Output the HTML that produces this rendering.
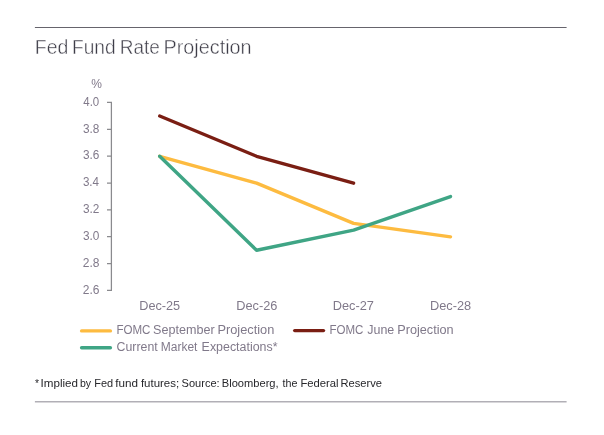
<!DOCTYPE html>
<html><head><meta charset="utf-8"><title>Fed Fund Rate Projection</title>
<style>
html,body{margin:0;padding:0;background:#fff;}
body{width:604px;height:435px;overflow:hidden;position:relative;font-family:"Liberation Sans",sans-serif;}
svg{position:absolute;left:0;top:0;display:block;will-change:transform;opacity:0.999;}
text{font-family:"Liberation Sans",sans-serif;white-space:pre;}
</style></head><body>
<svg width="604" height="435" viewBox="0 0 604 435">
<rect width="604" height="435" fill="#fff"/>
<line x1="34.9" y1="27.5" x2="566.6" y2="27.5" stroke="#66646c" stroke-width="1.05"/>
<line x1="34.9" y1="401.75" x2="566.6" y2="401.75" stroke="#b1afb6" stroke-width="1.7"/>
<g stroke="#8a8a8e" stroke-width="1.25" fill="none">
<path d="M107.0 102.45H111.4V290.4H107.0"/>
<path d="M107.0 129.3H111.4 M107.0 156.15H111.4 M107.0 183.0H111.4 M107.0 209.85H111.4 M107.0 236.7H111.4 M107.0 263.55H111.4"/>
</g>
<g fill="none" stroke-width="3.4" stroke-linecap="round" stroke-linejoin="round">
<polyline stroke="#fdbb40" points="159.7,156.3 256.6,183.15 353.6,223.42 450.5,236.85"/>
<polyline stroke="#7a1e13" points="159.7,116.03 256.6,156.3 353.6,183.15"/>
<polyline stroke="#3fa585" points="159.7,156.3 256.6,250.28 353.6,230.14 450.5,196.58"/>
<line stroke="#fdbb40" x1="81.6" y1="330.9" x2="110.4" y2="330.9"/>
<line stroke="#7a1e13" x1="294.7" y1="330.6" x2="323.5" y2="330.6"/>
<line stroke="#3fa585" x1="81.6" y1="347.7" x2="110.4" y2="347.7"/>
</g>
<text x="34.87" y="53.60" font-size="21.0" fill="#3e3d48" stroke="#fff" stroke-width="0.45" textLength="33.58" lengthAdjust="spacingAndGlyphs">Fed</text>
<text x="71.95" y="53.60" font-size="21.0" fill="#3e3d48" stroke="#fff" stroke-width="0.45" textLength="43.7" lengthAdjust="spacingAndGlyphs">Fund</text>
<text x="119.78" y="53.60" font-size="21.0" fill="#3e3d48" stroke="#fff" stroke-width="0.45" textLength="40.11" lengthAdjust="spacingAndGlyphs">Rate</text>
<text x="163.5" y="53.60" font-size="21.0" fill="#3e3d48" stroke="#fff" stroke-width="0.45" textLength="88.13" lengthAdjust="spacingAndGlyphs">Projection</text>
<text x="91.33" y="88.00" font-size="12" fill="#80798a">%</text>
<text x="83.28" y="105.75" font-size="12" fill="#80798a" textLength="15.92" lengthAdjust="spacingAndGlyphs">4.0</text>
<text x="82.9" y="132.60" font-size="12" fill="#80798a" textLength="16.42" lengthAdjust="spacingAndGlyphs">3.8</text>
<text x="82.9" y="159.45" font-size="12" fill="#80798a" textLength="16.42" lengthAdjust="spacingAndGlyphs">3.6</text>
<text x="82.9" y="186.30" font-size="12" fill="#80798a" textLength="16.17" lengthAdjust="spacingAndGlyphs">3.4</text>
<text x="82.9" y="213.15" font-size="12" fill="#80798a" textLength="16.43" lengthAdjust="spacingAndGlyphs">3.2</text>
<text x="82.9" y="240.00" font-size="12" fill="#80798a" textLength="16.43" lengthAdjust="spacingAndGlyphs">3.0</text>
<text x="82.78" y="266.85" font-size="12" fill="#80798a" textLength="16.69" lengthAdjust="spacingAndGlyphs">2.8</text>
<text x="82.78" y="293.70" font-size="12" fill="#80798a" textLength="16.69" lengthAdjust="spacingAndGlyphs">2.6</text>
<text x="139.25" y="309.80" font-size="12" fill="#80798a" textLength="40.92" lengthAdjust="spacingAndGlyphs">Dec-25</text>
<text x="236.23" y="309.80" font-size="12" fill="#80798a" textLength="41.18" lengthAdjust="spacingAndGlyphs">Dec-26</text>
<text x="332.75" y="309.80" font-size="12" fill="#80798a" textLength="41.2" lengthAdjust="spacingAndGlyphs">Dec-27</text>
<text x="430.02" y="309.80" font-size="12" fill="#80798a" textLength="41.18" lengthAdjust="spacingAndGlyphs">Dec-28</text>
<text x="116.4" y="334.00" font-size="12" fill="#80798a" textLength="34.07" lengthAdjust="spacingAndGlyphs">FOMC</text>
<text x="153.05" y="334.00" font-size="12" fill="#80798a" textLength="61.54" lengthAdjust="spacingAndGlyphs">September</text>
<text x="217.43" y="334.00" font-size="12" fill="#80798a" textLength="56.93" lengthAdjust="spacingAndGlyphs">Projection</text>
<text x="329.45" y="334.00" font-size="12" fill="#80798a" textLength="33.97" lengthAdjust="spacingAndGlyphs">FOMC</text>
<text x="367.28" y="334.00" font-size="12" fill="#80798a" textLength="27.01" lengthAdjust="spacingAndGlyphs">June</text>
<text x="397.25" y="334.00" font-size="12" fill="#80798a" textLength="56.38" lengthAdjust="spacingAndGlyphs">Projection</text>
<text x="116.55" y="350.80" font-size="12" fill="#80798a" textLength="41.14" lengthAdjust="spacingAndGlyphs">Current</text>
<text x="160.75" y="350.80" font-size="12" fill="#80798a" textLength="36.64" lengthAdjust="spacingAndGlyphs">Market</text>
<text x="201.62" y="350.80" font-size="12" fill="#80798a" textLength="75.88" lengthAdjust="spacingAndGlyphs">Expectations*</text>
<text x="35.1" y="387.00" font-size="10.2" fill="#27272b">*</text>
<text x="40.53" y="387.00" font-size="10.2" fill="#27272b" textLength="37.47" lengthAdjust="spacingAndGlyphs">Implied</text>
<text x="79.92" y="387.00" font-size="10.2" fill="#27272b" textLength="11.14" lengthAdjust="spacingAndGlyphs">by</text>
<text x="94.25" y="387.00" font-size="10.2" fill="#27272b" textLength="18.88" lengthAdjust="spacingAndGlyphs">Fed</text>
<text x="115.23" y="387.00" font-size="10.2" fill="#27272b" textLength="22.77" lengthAdjust="spacingAndGlyphs">fund</text>
<text x="140.9" y="387.00" font-size="10.2" fill="#27272b" textLength="38.26" lengthAdjust="spacingAndGlyphs">futures;</text>
<text x="181.6" y="387.00" font-size="10.2" fill="#27272b" textLength="38.02" lengthAdjust="spacingAndGlyphs">Source:</text>
<text x="221.82" y="387.00" font-size="10.2" fill="#27272b" textLength="56.83" lengthAdjust="spacingAndGlyphs">Bloomberg,</text>
<text x="282.58" y="387.00" font-size="10.2" fill="#27272b" textLength="14.91" lengthAdjust="spacingAndGlyphs">the</text>
<text x="300.4" y="387.00" font-size="10.2" fill="#27272b" textLength="38.24" lengthAdjust="spacingAndGlyphs">Federal</text>
<text x="340.45" y="387.00" font-size="10.2" fill="#27272b" textLength="41.5" lengthAdjust="spacingAndGlyphs">Reserve</text>
</svg>
</body></html>
